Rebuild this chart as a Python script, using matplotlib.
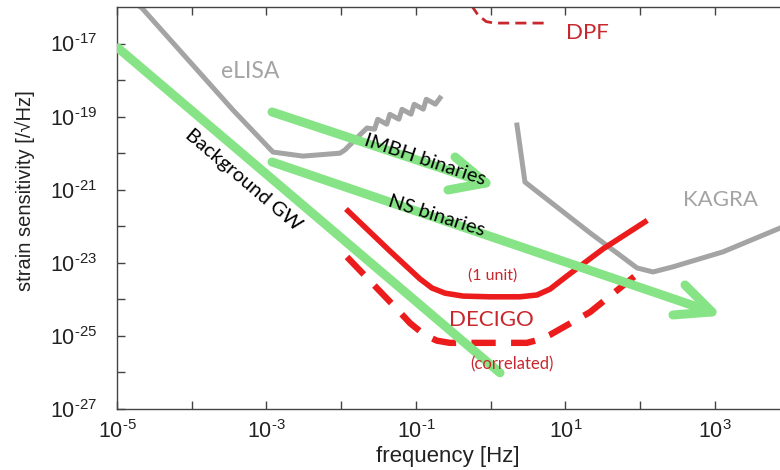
import numpy as np
import matplotlib
matplotlib.use("Agg")
import matplotlib.pyplot as plt

plt.rcParams['font.family'] = ['Liberation Sans', 'DejaVu Sans']
plt.rcParams['mathtext.fontset'] = 'custom'
plt.rcParams['mathtext.rm'] = 'Liberation Sans'
plt.rcParams['mathtext.it'] = 'Liberation Sans'

# ---- data (log10 frequency [Hz], log10 strain) ----
elisa_logf = [-4.72, -4.666, -3.448, -2.913, -2.512, -2.017, -1.95, -1.79, -1.656,
              -1.554, -1.512, -1.391, -1.350, -1.229, -1.187, -1.066, -1.024,
              -0.902, -0.862, -0.740, -0.679]
elisa_logh = [-15.95, -16.03, -18.82, -19.97, -20.08, -20.00, -19.91, -19.58, -19.311,
              -19.343, -19.072, -19.207, -18.936, -19.070, -18.799, -18.933, -18.662,
              -18.796, -18.525, -18.659, -18.490]

kagra_logf = [0.351, 0.458, 1.328, 1.957, 2.171, 2.438, 3.107, 3.870]
kagra_logh = [-19.23, -20.79, -22.18, -23.14, -23.25, -23.11, -22.70, -22.05]

dpf_logf = [-0.26, -0.17, -0.06, 0.05, 0.75]
dpf_logh = [-15.95, -16.22, -16.40, -16.44, -16.44]

decigo1_logf = [-1.910, -1.348, -0.947, -0.786, -0.612, -0.371, -0.010, 0.391,
                0.619, 0.793, 1.020, 1.502, 2.063]
decigo1_logh = [-21.58, -22.68, -23.44, -23.69, -23.83, -23.91, -23.93, -23.93,
                -23.88, -23.72, -23.36, -22.62, -21.88]

decigoc_logf = [-1.923, -1.308, -1.080, -0.880, -0.720, -0.550, 0.485, 0.650, 0.793, 1.328, 2.063]
decigoc_logh = [-22.84, -24.15, -24.65, -24.98, -25.13, -25.19, -25.19, -25.10, -24.97, -24.35, -23.14]

bg_logf = [-4.987, 0.124]
bg_logh = [-17.12, -26.01]

imbh_logf = [-2.926, -0.064]
imbh_logh = [-18.873, -20.815]
imbh_head_logf = [-0.478, -0.064, -0.572]
imbh_head_logh = [-20.104, -20.815, -21.007]

ns_logf = [-2.926, 2.960]
ns_logh = [-20.241, -24.345]
ns_head_logf = [2.599, 2.960, 2.438]
ns_head_logh = [-23.606, -24.345, -24.427]

xtick_exp = [-5, -4, -3, -2, -1, 0, 1, 2, 3]
ytick_exp = [-27, -26, -25, -24, -23, -22, -21, -20, -19, -18, -17]

def p(a):
    return np.power(10.0, np.array(a, dtype=float))

def lab(e):
    if e % 2 == 0:
        return ''
    if e < 0:
        return r'$10^{\text{-}%d}$' % (-e)
    return r'$10^{%d}$' % e

GRAY = '#a4a4a4'
GREEN = '#86e486'
RED = '#ec1c1c'
DRED = '#c8282d'

fig = plt.figure(figsize=(7.8, 4.7), dpi=100)
ax = fig.add_axes([117/780, 1-409/470, 1-117/780, (409-7)/470])
ax.set_xscale('log')
ax.set_yscale('log')
ax.set_xlim(1e-5, 10**3.87)
ax.set_ylim(1e-27, 1e-16)

ax.plot(p(elisa_logf), p(elisa_logh), color=GRAY, lw=3.6, solid_joinstyle='round', zorder=2)
ax.plot(p(kagra_logf), p(kagra_logh), color=GRAY, lw=3.6, solid_joinstyle='round', zorder=2)
ax.plot(p(dpf_logf), p(dpf_logh), color=DRED, lw=2.0, ls=(0, (4, 2.2)), zorder=2)
ax.plot(p(decigo1_logf), p(decigo1_logh), color=RED, lw=4.0, solid_joinstyle='round', zorder=3)
ax.plot(p(decigoc_logf), p(decigoc_logh), color=RED, lw=4.6, ls=(0, (3.8, 2.4)), zorder=3)

for lf, lh in [(bg_logf, bg_logh), (imbh_logf, imbh_logh), (ns_logf, ns_logh),
               (imbh_head_logf, imbh_head_logh), (ns_head_logf, ns_head_logh)]:
    ax.plot(p(lf), p(lh), color=GREEN, lw=6.5, solid_capstyle='round',
            solid_joinstyle='round', zorder=4)

ann = dict(family=['Lato', 'DejaVu Sans'], ha='center', va='center', zorder=5)
ax.text(10**-3.221, 10**-17.778, 'eLISA', color=GRAY, fontsize=16.5, **ann)
ax.text(10**1.288, 10**-16.71, 'DPF', color=DRED, fontsize=16, **ann)
ax.text(10**3.080, 10**-21.28, 'KAGRA', color=GRAY, fontsize=16, **ann)
ax.text(10**0.003, 10**-24.56, 'DECIGO', color=DRED, fontsize=16, **ann)
ax.text(10**0.030, 10**-23.36, '(1 unit)', color=DRED, fontsize=11.5, **ann)
ax.text(10**0.284, 10**-25.79, '(correlated)', color=DRED, fontsize=12, **ann)
ax.text(10**-0.880, 10**-20.186, 'IMBH binaries', color='black', fontsize=14.5,
        rotation=-18.5, rotation_mode='anchor', **ann)
ax.text(10**-0.719, 10**-21.718, 'NS binaries', color='black', fontsize=14.5,
        rotation=-17.5, rotation_mode='anchor', **ann)
ax.text(10**-3.314, 10**-20.733, 'Background GW', color='black', fontsize=14.5,
        rotation=-40.4, rotation_mode='anchor', **ann)

ax.set_xticks(p(xtick_exp))
ax.set_xticklabels([lab(e) for e in xtick_exp])
ax.set_yticks(p(ytick_exp))
ax.set_yticklabels([lab(e) for e in ytick_exp])
ax.minorticks_off()
ax.tick_params(which='both', direction='in', length=6, width=1, color='#444444',
               top=True, right=False, labelsize=15.5, labelcolor='#222222')
ax.tick_params(axis='x', pad=8)
ax.tick_params(axis='y', pad=14)
for s in ['left', 'bottom', 'top']:
    ax.spines[s].set_color('#444444')
    ax.spines[s].set_linewidth(1.0)
ax.spines['right'].set_visible(False)

ax.set_xlabel('frequency [Hz]', fontsize=16, color='#222222')
ax.set_ylabel('strain sensitivity [/√Hz]', fontsize=14.5, color='#222222')
ax.xaxis.set_label_coords(0.499, -0.092)
ax.yaxis.set_label_coords(-0.139, 0.542)
ax.yaxis.label.set_va('center')

fig.savefig('out.png', dpi=100)
